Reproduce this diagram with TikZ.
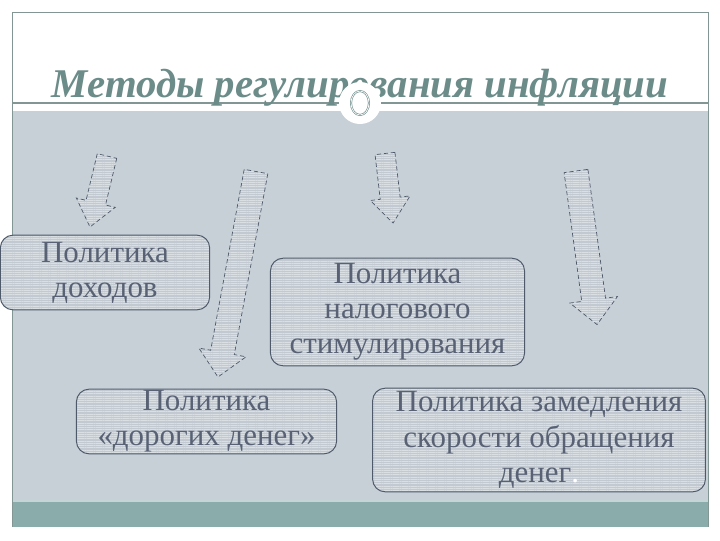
\documentclass[tikz,border=0pt]{standalone}
\usepackage{fontspec}
\setmainfont{Liberation Serif}
\usetikzlibrary{patterns.meta}

\definecolor{panelgrey}{RGB}{200,208,215}
\definecolor{bandteal}{RGB}{138,172,171}
\definecolor{framegrey}{RGB}{130,150,148}
\definecolor{boxfill}{RGB}{194,201,209}
\definecolor{boxstripe}{RGB}{218,223,228}
\definecolor{boxline}{RGB}{78,90,106}
\definecolor{boxtext}{RGB}{88,98,116}
\definecolor{titleteal}{RGB}{108,140,137}

\tikzset{
  stripes/.style={preaction={fill=boxfill},
    pattern={Lines[angle=0, distance=1.6pt, line width=0.7pt]}, pattern color=boxstripe},
  policybox/.style={stripes, draw=boxline, line width=0.7pt, rounded corners=9pt,
    text=boxtext, align=center, inner sep=0pt,
    font=\fontsize{22}{25}\selectfont},
  blockarrow/.style={stripes, draw=boxline, densely dashed, line width=0.5pt},
  slidetitle/.style={text=titleteal, anchor=base,
    font=\fontsize{29}{34}\selectfont\bfseries\itshape}
}

\begin{document}
\begin{tikzpicture}[x=0.025cm, y=-0.025cm]
  \useasboundingbox (0,0) rectangle (720,540);
  \fill[white] (0,0) rectangle (720,540);

  % slide background
  \fill[panelgrey] (12,111) rectangle (708,502);
  \fill[bandteal] (12,502) rectangle (708,527);
  \draw[bandteal!50!white, line width=1pt] (12,501) -- (708,501);
  \draw[framegrey, line width=0.6pt] (12,527) -- (12,12) -- (708,12) -- (708,527);
  \draw[framegrey, line width=0.8pt] (12,103) -- (708,103);

  \node[slidetitle] (title) at (360,97) {Методы регулирования инфляции};
  \fill[white] (360,103) circle (21);
  \draw[titleteal, line width=1.4pt] (360,103) ellipse [x radius=9, y radius=12];
  \draw[white, line width=0.5pt] (360,103) ellipse [x radius=9, y radius=12];

  % boxes
  \node[policybox, minimum width=148.8pt, minimum height=53.1pt] (incomes) at (105,272.5) {Политика\\доходов};
  \node[policybox, minimum width=180.7pt, minimum height=76.5pt] (taxes) at (397.5,312) {Политика\\налогового\\стимулирования};
  \node[policybox, minimum width=185pt, minimum height=46pt] (dearmoney) at (206.5,421.5) {Политика\\«дорогих денег»};
  \node[policybox, minimum width=236.7pt, minimum height=73.7pt] (velocity) at (539,440) {Политика замедления\\скорости обращения\\денег{\color{white}.}};

  % block arrows
  \foreach \x/\y/\ang/\len/\w in {107/156/-103.5/73/10, 256/171.5/-100.5/209/12,
                                  385/153.5/-83.4/70/10, 576/171/-82.2/155/12}
    \draw[blockarrow, shift={(\x,\y)}, rotate=\ang]
      (0,-\w) -- (\len-25,-\w) -- (\len-25,-2*\w) -- (\len,0)
      -- (\len-25,2*\w) -- (\len-25,\w) -- (0,\w) -- cycle;
\end{tikzpicture}
\end{document}
